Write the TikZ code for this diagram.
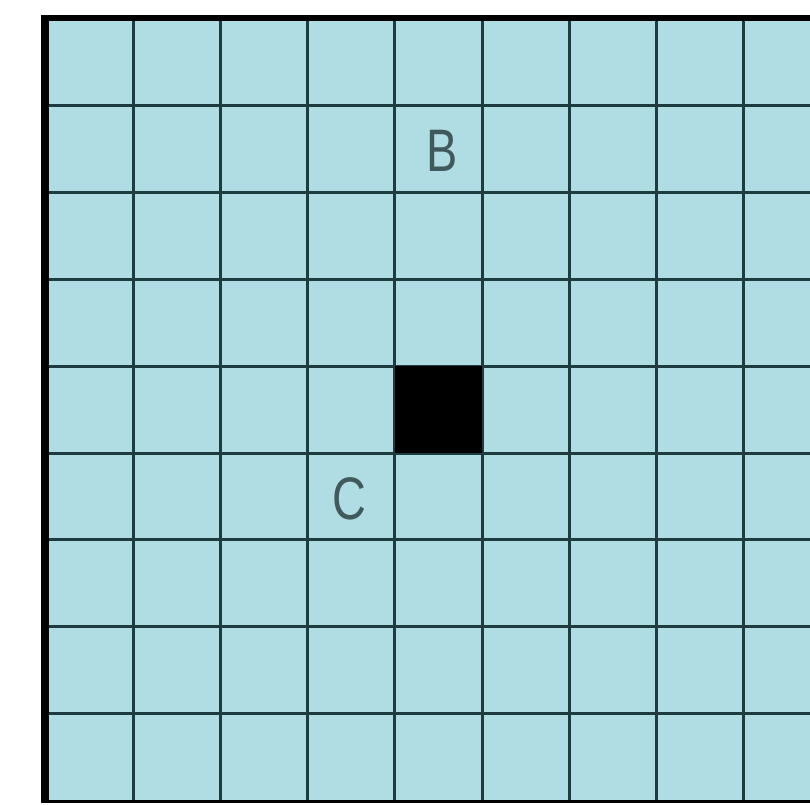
\documentclass[tikz,border=0pt]{standalone}
\usepackage{fontspec}
\setsansfont{Liberation Sans}
\usetikzlibrary{positioning}
\definecolor{gridFill}{HTML}{B0DDE3}
\definecolor{gridLine}{HTML}{1E3C40}
\tikzset{
  cellline/.style={draw=gridLine, line width=3pt},
  rim/.style={draw=black},
  cellmark/.style={font=\sffamily\fontsize{60}{60}\selectfont, text=gridLine!85, inner sep=0pt, xscale=0.78},
  blocked/.style={fill=black}
}

\begin{document}
\begin{tikzpicture}[x=1pt,y=-1pt]
  \useasboundingbox (0,0) rectangle (810,804);
  % board
  \fill[gridFill] (45,18) rectangle (810,801);
  \foreach \i in {1,...,8}{\draw[cellline] ({46+87.2*\i},18) -- ({46+87.2*\i},801);}
  \foreach \j in {1,...,8}{\draw[cellline] (45,{19+86.8*\j}) -- (810,{19+86.8*\j});}
  \fill[blocked] (394.8,366.2) rectangle (482,453);
  % frame
  \draw[rim, line width=8pt] (45,15) -- (45,803);
  \draw[rim, line width=6pt] (41,18) -- (810,18);
  \draw[rim, line width=3pt] (41,801.5) -- (810,801.5);
  % labels
  \node[cellmark] (markB) at (442,151) {B};
  \node[cellmark] (markC) at (349,499) {C};
\end{tikzpicture}
\end{document}
